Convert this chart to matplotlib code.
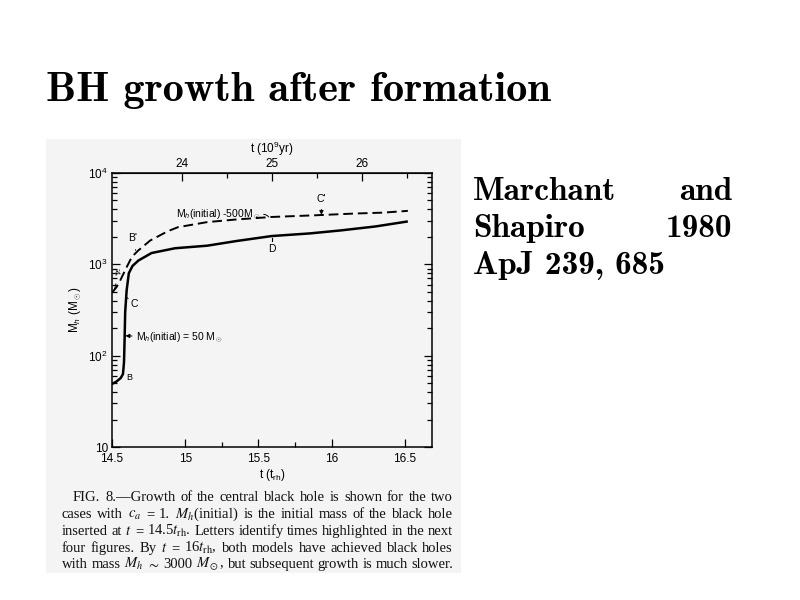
#!/usr/bin/env python3
"""Slide: BH growth after formation (Marchant & Shapiro 1980, Fig. 8)."""

import matplotlib
matplotlib.use("Agg")
import matplotlib.pyplot as plt
from matplotlib.patches import Rectangle
from matplotlib.ticker import FixedLocator, LogLocator, NullFormatter

# ---- data -----------------------------------------------------------------
t_solid = [14.5, 14.53, 14.56, 14.575, 14.582, 14.586, 14.59, 14.60, 14.615,
           14.64, 14.68, 14.77, 14.93, 15.15, 15.35, 15.59, 15.85, 16.06,
           16.3, 16.52]
m_solid = [49, 52, 57, 63, 85, 150, 300, 520, 800, 960, 1100, 1330, 1500,
           1600, 1800, 2040, 2180, 2350, 2600, 2950]

t_dashed = [14.5, 14.53, 14.555, 14.58, 14.60, 14.636, 14.68, 14.76, 14.88,
            14.95, 15.15, 15.35, 15.59, 15.9, 16.16, 16.35, 16.52]
m_dashed = [490, 560, 660, 800, 930, 1210, 1420, 1820, 2300, 2550, 2900,
            3100, 3300, 3450, 3600, 3680, 3850]

x_ticks = [14.5, 15, 15.5, 16, 16.5]
x_minor = [15.25, 15.75]
y_ticks = [10, 100, 1000, 10000]
y_ticklabels = ["10", r"$10^2$", r"$10^3$", r"$10^4$"]
gyr_ticks = [24, 25, 26]
gyr_minor = [24.5, 25.5, 26.5]

caption_lines = [
    "FIG. 8.—Growth of the central black hole is shown for the two",
    r"cases with $c_a$ = 1. $M_h$(initial) is the initial mass of the black hole",
    r"inserted at $t$ = 14.5$t_\mathrm{rh}$. Letters identify times highlighted in the next",
    r"four figures. By $t$ = 16$t_\mathrm{rh}$, both models have achieved black holes",
    r"with mass $M_h$ $\sim$ 3000 $M_\odot$, but subsequent growth is much slower.",
]

title = "BH growth after formation"
ref_lines = [("Marchant", "and"), ("Shapiro", "1980"), ("ApJ 239, 685", None)]

PANEL = "#f4f4f4"
W, H = 800, 600


def fx(px):
    return px / W


def fy(py):
    return 1 - py / H


def rh_to_gyr(t):
    return 24 + (t - 14.978) / 0.614


def gyr_to_rh(g):
    return 14.978 + (g - 24) * 0.614


def justify(fig, words_line, x0, x1, y, **kw):
    r = fig.canvas.get_renderer()
    words = words_line.split(" ")
    texts = [fig.text(0, y, w, va="baseline", ha="left", **kw) for w in words]
    widths = [t.get_window_extent(renderer=r).width / W for t in texts]
    gap = (fx(x1) - fx(x0) - sum(widths)) / max(len(words) - 1, 1)
    x = fx(x0)
    for t, w in zip(texts, widths):
        t.set_x(x)
        x += w + gap


def main():
    plt.rcParams["font.family"] = ["Liberation Sans", "DejaVu Sans"]
    plt.rcParams["mathtext.fontset"] = "custom"
    plt.rcParams["mathtext.rm"] = "Liberation Sans"
    plt.rcParams["mathtext.it"] = "Liberation Sans:italic"

    fig = plt.figure(figsize=(8, 6), dpi=100)
    fig.patch.set_facecolor("white")
    fig.patches.append(Rectangle((fx(46), fy(573)), fx(461) - fx(46), fy(139) - fy(573),
                                 transform=fig.transFigure, facecolor=PANEL,
                                 edgecolor="none", zorder=-5))

    ax = fig.add_axes([fx(112), fy(447), fx(432) - fx(112), fy(173) - fy(447)])
    ax.set_zorder(2)
    ax.set_facecolor("none")
    ax.plot(t_solid, m_solid, color="black", lw=1.8, solid_capstyle="butt")
    ax.plot(t_dashed, m_dashed, color="black", lw=1.4, dashes=(5, 2.5))

    ax.set_yscale("log")
    ax.set_xlim(14.5, 16.685)
    ax.set_ylim(10, 10000)
    ax.set_xticks(x_ticks)
    ax.set_xticklabels(["14.5", "15", "15.5", "16", "16.5"])
    ax.xaxis.set_minor_locator(FixedLocator(x_minor))
    ax.set_yticks(y_ticks)
    ax.set_yticklabels(y_ticklabels)
    ax.yaxis.set_minor_locator(LogLocator(base=10, subs=range(2, 10)))
    ax.yaxis.set_minor_formatter(NullFormatter())
    ax.tick_params(which="both", direction="in", right=True, top=False,
                   labelsize=8.5, width=0.9)
    ax.tick_params(axis="y", pad=3)
    ax.tick_params(axis="x", pad=4)
    ax.tick_params(which="major", length=6)
    ax.tick_params(which="minor", length=3.5)
    for s in ax.spines.values():
        s.set_linewidth(1.1)

    ax.set_xlabel(r"t (t$_\mathrm{rh}$)", fontsize=8.5, labelpad=2)
    ax.set_ylabel(r"M$_h$ (M$_\odot$)", fontsize=8.5, labelpad=4)

    sec = ax.secondary_xaxis("top", functions=(rh_to_gyr, gyr_to_rh))
    sec.set_xticks(gyr_ticks)
    sec.xaxis.set_minor_locator(FixedLocator(gyr_minor))
    sec.tick_params(which="both", direction="in", labelsize=8.5, width=0.9, pad=2)
    sec.tick_params(which="major", length=6)
    sec.tick_params(which="minor", length=3.5)
    sec.set_xlabel(r"t (10$^9$yr)", fontsize=8.5, labelpad=4)

    # curve annotations
    fs = 7.5
    ax.annotate(r"M$_h$(initial) -500M$_\odot$", xy=(15.57, 3300), xytext=(14.94, 3450),
                fontsize=fs, va="center",
                arrowprops=dict(arrowstyle="-", lw=0.7, color="black",
                                connectionstyle="arc3,rad=-0.4",
                                shrinkA=0, shrinkB=0, relpos=(1, 0.5)))
    ax.annotate("C'", xy=(15.93, 3480), xytext=(15.93, 5200), fontsize=fs,
                ha="center", va="center",
                arrowprops=dict(arrowstyle="-|>", lw=0.7, color="black",
                                mutation_scale=6, shrinkA=2, shrinkB=0))
    ax.plot([15.59, 15.59], [1950, 1780], color="black", lw=0.8)
    ax.text(15.59, 1480, "D", fontsize=fs, ha="center", va="center")
    ax.annotate("B'", xy=(14.662, 1420), xytext=(14.64, 1950), fontsize=fs,
                ha="center", va="center",
                arrowprops=dict(arrowstyle="-", lw=0.7, color="black",
                                shrinkA=3, shrinkB=0))
    ax.annotate("A'", xy=(14.515, 520), xytext=(14.545, 790), fontsize=6,
                ha="center", va="center", rotation=20,
                arrowprops=dict(arrowstyle="-", lw=0.6, color="black",
                                shrinkA=2, shrinkB=0))
    ax.annotate("C", xy=(14.595, 440), xytext=(14.655, 370), fontsize=fs,
                ha="center", va="center",
                arrowprops=dict(arrowstyle="-", lw=0.7, color="black",
                                shrinkA=3, shrinkB=0))
    ax.annotate(r"M$_h$(initial) = 50 M$_\odot$", xy=(14.592, 165), xytext=(14.665, 158),
                fontsize=fs, va="center", ha="left",
                arrowprops=dict(arrowstyle="-|>", lw=0.7, color="black",
                                mutation_scale=6, shrinkA=1, shrinkB=0))
    ax.text(14.6, 57, "B", fontsize=6.5, ha="left", va="center")

    # caption under the scanned figure
    cap_kw = dict(fontsize=10.5, family=["Liberation Serif", "DejaVu Serif"],
                  math_fontfamily="stix", color="#111111")
    baselines = [501, 518, 535, 552, 568]
    for i, (line, yb) in enumerate(zip(caption_lines, baselines)):
        justify(fig, line, 73 if i == 0 else 62, 453, fy(yb), **cap_kw)

    # slide text
    fig.text(fx(46), fy(101), title, fontsize=30.5, family="cmb10",
             ha="left", va="baseline")
    for (left, right), yb in zip(ref_lines, [200, 237, 274]):
        fig.text(fx(473), fy(yb), left, fontsize=24, family="cmb10",
                 ha="left", va="baseline")
        if right:
            fig.text(fx(732), fy(yb), right, fontsize=24, family="cmb10",
                     ha="right", va="baseline")

    fig.savefig("out.png", dpi=100)
    plt.close(fig)


if __name__ == "__main__":
    main()
